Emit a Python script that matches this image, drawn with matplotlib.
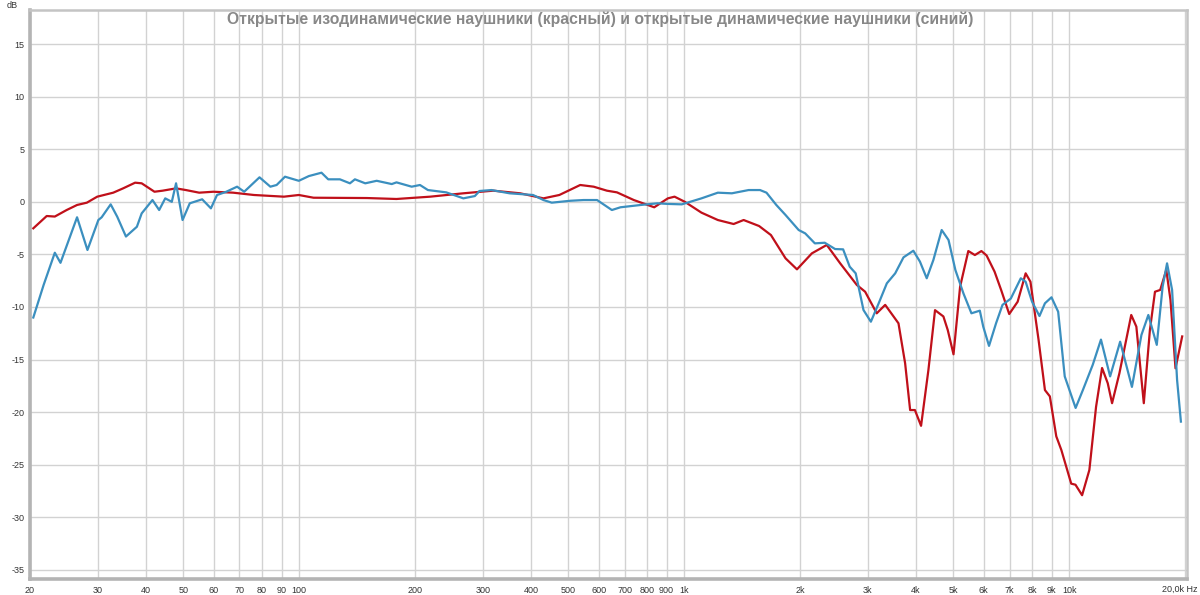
import matplotlib
matplotlib.use("Agg")
import matplotlib.pyplot as plt
import matplotlib.ticker as ticks
import numpy as np

TITLE = "Открытые изодинамические наушники (красный) и открытые динамические наушники (синий)"

# red: planar magnetic (isodynamic) headphones
red_freq = [20.4, 22.1, 23.2, 24.9, 26.5, 28.1, 29.9, 32.9, 34.9, 37.5, 39.0, 42.1, 44.2,
            47.9, 50.8, 55, 59.9, 67.4, 76.3, 91.3, 99.8, 109, 150, 179, 219, 267, 319,
            375, 431, 474, 537, 582, 630, 669, 740, 836, 907, 944, 1003, 1109, 1223, 1344,
            1427, 1565, 1680, 1833, 1963, 2146, 2346, 2542, 2807, 2951, 3163, 3327, 3602,
            3748, 3862, 3974, 4123, 4308, 4482, 4712, 4837, 5006, 5207, 5469, 5688, 5915,
            6100, 6399, 6655, 6985, 7346, 7706, 7930, 8323, 8648, 8906, 9255, 9540, 10120,
            10380, 10800, 11280, 11740, 12170, 12590, 12920, 13500, 14490, 14940, 15620,
            16200, 16700, 17230, 17870, 18320, 18880, 19650]
red_db = [-2.52, -1.35, -1.4, -0.78, -0.3, -0.08, 0.49, 0.87, 1.28, 1.82, 1.76, 0.96, 1.06,
          1.28, 1.12, 0.87, 0.96, 0.87, 0.65, 0.49, 0.65, 0.39, 0.36, 0.27, 0.49, 0.81, 1.06,
          0.81, 0.33, 0.65, 1.6, 1.44, 1.06, 0.9, 0.17, -0.52, 0.33, 0.49, 0.01, -1.03, -1.73,
          -2.11, -1.73, -2.3, -3.16, -5.37, -6.42, -4.9, -4.1, -5.85, -7.9, -8.55, -10.6,
          -9.8, -11.55, -15.35, -19.8, -19.8, -21.3, -16.0, -10.3, -10.9, -12.2, -14.5,
          -8.07, -4.68, -5.06, -4.68, -5.1, -6.64, -8.38, -10.67, -9.5, -6.8, -7.6, -13.1,
          -17.9, -18.5, -22.3, -23.6, -26.8, -26.9, -27.9, -25.5, -19.5, -15.8, -17.25,
          -19.15, -16.3, -10.76, -11.87, -19.15, -12.19, -8.55, -8.38, -6.48, -9.33,
          -15.83, -12.8]

# blue: dynamic headphones
blue_freq = [20.4, 21.7, 23.2, 24.0, 26.5, 28.2, 30.1, 30.7, 32.4, 33.7, 35.5, 37.9, 39.0,
             41.6, 43.3, 44.9, 46.7, 47.9, 49.8, 52, 56, 59, 61.2, 62.9, 64.7, 69, 72, 78.9,
             84.2, 87.4, 91.9, 99.8, 106, 114.3, 119, 127.6, 135.5, 139.6, 148.5, 159, 174,
             179, 196, 206, 216, 241, 267, 286, 294, 316, 352, 405, 431, 453, 506, 548, 594,
             649, 683, 771, 853, 907, 986, 1109, 1223, 1330, 1470, 1574, 1636, 1735, 1833,
             1983, 2062, 2185, 2318, 2466, 2587, 2691, 2789, 2922, 3054, 3200, 3360, 3532,
             3712, 3937, 4096, 4265, 4438, 4664, 4859, 5062, 5311, 5572, 5859, 5980, 6190,
             6456, 6710, 7051, 7485, 7706, 8007, 8370, 8648, 8993, 9360, 9735, 10390, 10850,
             11510, 12090, 12770, 13560, 14550, 15400, 16050, 16880, 17480, 17950, 18500,
             19060, 19500]
blue_db = [-11.0, -7.9, -4.84, -5.8, -1.47, -4.58, -1.73, -1.47, -0.24, -1.42, -3.3, -2.37,
           -1.1, 0.17, -0.78, 0.33, 0.0, 1.76, -1.73, -0.14, 0.24, -0.62, 0.65, 0.8, 0.96,
           1.44, 0.96, 2.33, 1.44, 1.6, 2.39, 2.0, 2.45, 2.77, 2.14, 2.14, 1.76, 2.14, 1.76,
           2.0, 1.69, 1.85, 1.44, 1.6, 1.12, 0.9, 0.33, 0.55, 1.03, 1.12, 0.81, 0.65, 0.17,
           -0.08, 0.1, 0.17, 0.17, -0.78, -0.52, -0.3, -0.14, -0.2, -0.24, 0.33, 0.87, 0.81,
           1.12, 1.12, 0.87, -0.3, -1.25, -2.68, -3.0, -3.95, -3.89, -4.49, -4.52, -6.17,
           -6.8, -10.29, -11.4, -9.65, -7.75, -6.8, -5.28, -4.65, -5.69, -7.27, -5.53, -2.68,
           -3.63, -6.48, -8.7, -10.6, -10.35, -11.87, -13.7, -11.55, -9.8, -9.2, -7.27, -7.6,
           -9.5, -10.86, -9.65, -9.08, -10.45, -16.6, -19.6, -17.9, -15.5, -13.1, -16.6,
           -13.3, -17.6, -12.66, -10.76, -13.6, -8.07, -5.85, -8.38, -16.94, -20.9]

x_ticks = [20, 30, 40, 50, 60, 70, 80, 90, 100, 200, 300, 400, 500, 600, 700, 800, 900,
           1000, 2000, 3000, 4000, 5000, 6000, 7000, 8000, 9000, 10000]
x_labels = ["20", "30", "40", "50", "60", "70", "80", "90", "100", "200", "300", "400",
            "500", "600", "700", "800", "900", "1k", "2k", "3k", "4k", "5k", "6k", "7k",
            "8k", "9k", "10k"]
y_ticks = [15, 10, 5, 0, -5, -10, -15, -20, -25, -30, -35]


def main():
    fig = plt.figure(figsize=(12, 5.95), dpi=100)
    ax = fig.add_axes([0.025, 0.027, 0.964, 0.956])
    ax.set_xscale("log")
    ax.set_xlim(20, 20200)
    ax.set_ylim(-35.86, 18.23)

    grid_c = "#d2d2d2"
    for f in x_ticks + [20000]:
        ax.axvline(f, color=grid_c, lw=1.0, zorder=1)
    for v in y_ticks:
        ax.axhline(v, color=grid_c, lw=1.0, zorder=1)

    ax.plot(red_freq, red_db, color="#c0101a", lw=1.6, zorder=3, solid_joinstyle="round")
    ax.plot(blue_freq, blue_db, color="#3b8fbf", lw=1.6, zorder=4, solid_joinstyle="round")

    ax.xaxis.set_major_locator(ticks.FixedLocator(x_ticks))
    ax.xaxis.set_major_formatter(ticks.FixedFormatter(x_labels))
    ax.xaxis.set_minor_locator(ticks.NullLocator())
    ax.set_yticks(y_ticks)
    ax.set_yticklabels([str(v) for v in y_ticks])
    ax.tick_params(axis="both", length=0, labelsize=6.5, colors="#333333",
                   labelfontfamily="Liberation Sans")
    ax.tick_params(axis="x", pad=5)
    ax.tick_params(axis="y", pad=4)

    for side in ("top", "right"):
        ax.spines[side].set_color("#c4c4c4")
        ax.spines[side].set_linewidth(1.8)
    for side in ("left", "bottom"):
        ax.spines[side].set_color("#b4b4b4")
        ax.spines[side].set_linewidth(2.6)

    fig.text(0.5, 1 - 24 / 595, TITLE, ha="center", va="baseline",
             fontsize=11.3, fontweight="bold", color="#888888", family="Liberation Sans")
    fig.text(7 / 1200, 1 - 5 / 595, "dB", ha="left", va="center", fontsize=6.5,
             color="#333333", family="Liberation Sans")
    fig.text(1197 / 1200, 1 - 589 / 595, "20,0k Hz", ha="right", va="center", fontsize=6.5,
             color="#333333", family="Liberation Sans")

    fig.savefig("out.png", dpi=100)


if __name__ == "__main__":
    main()
